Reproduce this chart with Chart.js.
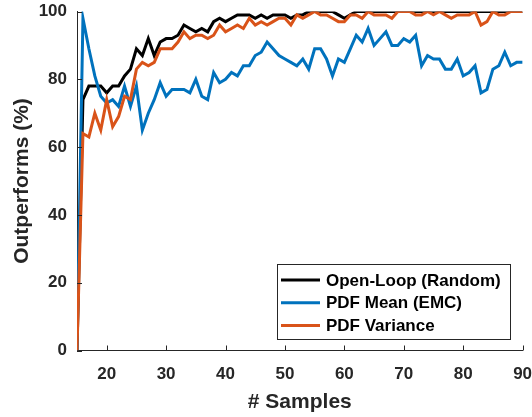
<!DOCTYPE html>
<html>
<head>
<meta charset="utf-8">
<script src="https://cdn.jsdelivr.net/npm/chart.js@4/dist/chart.umd.min.js"></script>
<style>
  html, body { margin: 0; padding: 0; background: #ffffff; }
  #wrap { width: 532px; height: 417px; }
</style>
</head>
<body>
<div id="wrap"><canvas id="c" width="532" height="417"></canvas></div>
<script>
// Number of samples on the x axis
const samples = [15, 16, 17, 18, 19, 20, 21, 22, 23, 24, 25, 26, 27, 28, 29, 30, 31, 32, 33, 34,
  35, 36, 37, 38, 39, 40, 41, 42, 43, 44, 45, 46, 47, 48, 49, 50, 51, 52, 53, 54,
  55, 56, 57, 58, 59, 60, 61, 62, 63, 64, 65, 66, 67, 68, 69, 70, 71, 72, 73, 74,
  75, 76, 77, 78, 79, 80, 81, 82, 83, 84, 85, 86, 87, 88, 89, 90];

// Percentage of trials outperformed, per strategy
const openLoop = [0, 74, 78, 78, 78, 76, 78, 78, 81, 83, 89, 87, 92, 87, 91, 92, 92, 93, 96, 95,
  94, 95, 94, 97, 98, 97, 98, 99, 99, 99, 98, 99, 98, 99, 99, 99, 98, 99, 99, 100,
  100, 100, 100, 100, 99, 98, 99, 100, 100, 100, 100, 100, 100, 100, 100, 100, 100, 100, 100, 100,
  100, 100, 100, 100, 100, 100, 100, 100, 100, 100, 100, 100, 100, 100, 100, 100];

const pdfMean = [0, 98, 89, 81, 75, 73, 74, 72, 78, 72, 78, 65, 70, 74, 79, 75, 77, 77, 77, 76,
  80, 75, 74, 82, 79, 80, 82, 81, 84, 84, 87, 88, 91, 89, 87, 86, 85, 84, 86, 83,
  89, 89, 86, 81, 86, 85, 89, 93, 91, 95, 90, 92, 94, 90, 90, 92, 91, 93, 84, 87,
  86, 86, 83, 83, 86, 81, 82, 84, 76, 77, 83, 84, 88, 84, 85, 85];

const pdfVariance = [0, 64, 63, 70, 65, 74, 66, 69, 75, 74, 83, 85, 84, 85, 89, 89, 89, 91, 94, 92,
  93, 93, 92, 93, 96, 94, 95, 96, 95, 98, 96, 97, 96, 97, 98, 98, 96, 99, 98, 99,
  100, 99, 99, 98, 97, 97, 99, 99, 98, 100, 99, 99, 99, 98, 100, 100, 100, 99, 99, 100,
  99, 100, 99, 98, 99, 99, 99, 100, 96, 97, 100, 99, 99, 100, 100, 100];

const xTicks = [20, 30, 40, 50, 60, 70, 80, 90];
const yTicks = [0, 20, 40, 60, 80, 100];

const seriesNames = ['Open-Loop (Random)', 'PDF Mean (EMC)', 'PDF Variance'];
const seriesColors = ['#000000', '#0072BD', '#D95319'];
const seriesValues = [openLoop, pdfMean, pdfVariance];

const FONT = '"Liberation Sans", Arial, Helvetica, sans-serif';
const AXIS_COLOR = '#262626';

// Short tick marks pointing into the plot area
const innerTicks = {
  id: 'innerTicks',
  afterDatasetsDraw(chart) {
    const { ctx, chartArea: a, scales } = chart;
    ctx.save();
    ctx.strokeStyle = AXIS_COLOR;
    ctx.lineWidth = 1;
    ctx.beginPath();
    scales.x.ticks.forEach(t => {
      const px = Math.round(scales.x.getPixelForValue(t.value)) + 0.5;
      ctx.moveTo(px, a.bottom);
      ctx.lineTo(px, a.bottom - 5);
    });
    scales.y.ticks.forEach(t => {
      const py = Math.round(scales.y.getPixelForValue(t.value)) + 0.5;
      ctx.moveTo(a.left, py);
      ctx.lineTo(a.left + 5, py);
    });
    ctx.stroke();
    ctx.restore();
  }
};

// Boxed legend in the lower right of the plot
const boxLegend = {
  id: 'boxLegend',
  afterDraw(chart) {
    const ctx = chart.ctx;
    const x0 = 277, y0 = 264, w = 233, h = 75;
    ctx.save();
    ctx.fillStyle = '#ffffff';
    ctx.fillRect(x0, y0, w, h);
    ctx.strokeStyle = AXIS_COLOR;
    ctx.lineWidth = 1;
    ctx.strokeRect(x0 + 0.5, y0 + 0.5, w, h);
    ctx.font = 'bold 17px ' + FONT;
    ctx.textBaseline = 'middle';
    ctx.textAlign = 'left';
    chart.data.datasets.forEach((ds, i) => {
      const y = 280 + i * 22.7;
      ctx.strokeStyle = ds.borderColor;
      ctx.lineWidth = 3;
      ctx.beginPath();
      ctx.moveTo(281, y);
      ctx.lineTo(320, y);
      ctx.stroke();
      ctx.fillStyle = '#000000';
      ctx.fillText(ds.label, 326, y + 1);
    });
    ctx.restore();
  }
};

const datasets = seriesNames.map((name, i) => ({
  label: name,
  data: samples.map((s, j) => ({ x: s, y: seriesValues[i][j] })),
  borderColor: seriesColors[i],
  backgroundColor: seriesColors[i],
  borderWidth: 3,
  pointRadius: 0,
  tension: 0,
  fill: false,
  order: 3 - i
}));

new Chart(document.getElementById('c'), {
  type: 'line',
  data: { datasets },
  plugins: [innerTicks, boxLegend],
  options: {
    responsive: false,
    animation: false,
    devicePixelRatio: 1,
    layout: { padding: { top: 11.5, right: 9.4, bottom: 0, left: 0 } },
    plugins: { legend: { display: false }, tooltip: { enabled: false } },
    scales: {
      x: {
        type: 'linear',
        min: 15,
        max: 90,
        afterBuildTicks: s => { s.ticks = xTicks.map(v => ({ value: v })); },
        afterFit: s => { s.height = 66.5; s.paddingLeft = 0; s.paddingRight = 0; },
        grid: { drawOnChartArea: false, drawTicks: false },
        border: { display: true, color: AXIS_COLOR, width: 1 },
        ticks: {
          autoSkip: false, maxRotation: 0, padding: 14, color: AXIS_COLOR,
          font: { family: FONT, size: 17, weight: 'bold' }
        },
        title: {
          display: true, text: '# Samples', color: AXIS_COLOR,
          font: { family: FONT, size: 21, weight: 'bold', lineHeight: 1 },
          padding: { top: 0, bottom: 4 }
        }
      },
      y: {
        min: 0,
        max: 100,
        afterBuildTicks: s => { s.ticks = yTicks.map(v => ({ value: v })); },
        afterFit: s => { s.width = 77; s.paddingTop = 0; s.paddingBottom = 0; },
        grid: { drawOnChartArea: false, drawTicks: false },
        border: { display: true, color: AXIS_COLOR, width: 1 },
        ticks: {
          padding: 10, color: AXIS_COLOR,
          font: { family: FONT, size: 17, weight: 'bold' }
        },
        title: {
          display: true, text: 'Outperforms (%)', color: AXIS_COLOR,
          font: { family: FONT, size: 21, weight: 'bold', lineHeight: 1 },
          padding: { top: 11.5, bottom: 0 }
        }
      }
    }
  }
});
</script>
</body>
</html>
